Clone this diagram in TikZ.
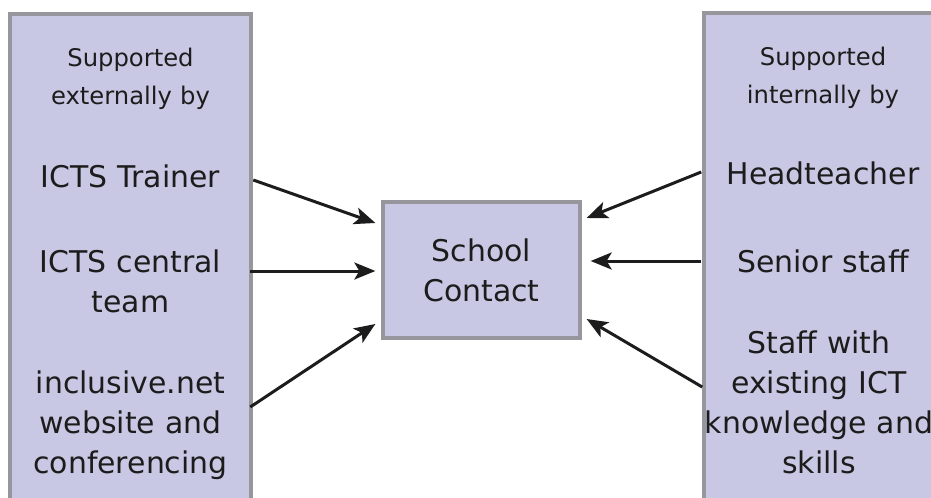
\documentclass[tikz,border=0pt]{standalone}
\usepackage{fontspec}
\setmainfont{DejaVu Sans}
\usepackage{tikz}
\usetikzlibrary{arrows.meta, positioning, calc}
\definecolor{panellilac}{RGB}{200, 200, 228}
\definecolor{panelrim}{RGB}{150, 150, 156}
\definecolor{inkdark}{RGB}{28, 28, 28}

\begin{document}
\begin{tikzpicture}[x=0.01cm, y=-0.01cm,
    panel/.style={draw=panelrim, line width=0.9pt, fill=panellilac, inner sep=0pt},
    bigtext/.style={text=inkdark, align=center, inner sep=0pt, text width=2.38cm,
        font=\fontsize{8.5}{11.4}\selectfont},
    smalltext/.style={text=inkdark, align=center, inner sep=0pt, text width=2.38cm,
        font=\fontsize{6.9}{10.8}\selectfont},
    feed/.style={-{Stealth[length=0.21cm, width=0.17cm, inset=0.05cm]}, line width=0.85pt, inkdark}]
    \useasboundingbox (0,0) rectangle (931,497);
    \clip (0,0) rectangle (931,497);

    % Side panels (run off the page)
    \draw[panel] (10,14) rectangle (251,520);
    \draw[panel] (704,13) rectangle (942,520);

    % Centre box
    \node[panel, minimum width=1.97cm, minimum height=1.36cm, align=center,
        text=inkdark, font=\fontsize{8.5}{11.4}\selectfont] (contact) at (481.5,270) {School\\Contact};

    % External support
    \node[smalltext] (extlabel) at (130.5,79) {Supported\\externally by};
    \node[bigtext] (trainer) at (130.5,176) {ICTS Trainer};
    \node[bigtext] (central) at (130.5,281) {ICTS central\\team};
    \node[bigtext] (inclusive) at (130.5,425) {inclusive.net\\website and\\conferencing};

    % Internal support
    \node[smalltext] (intlabel) at (823,78) {Supported\\internally by};
    \node[bigtext] (head) at (823,173) {Headteacher};
    \node[bigtext] (senior) at (823,261) {Senior staff};
    \node[bigtext, text width=2.6cm] (staff) at (819,402) {Staff with\\existing ICT\\knowledge and\\skills};

    % Arrows into the school contact
    \draw[feed] ([shift={(3,4)}]trainer.east) -- ([shift={(-6,-47)}]contact.west);
    \draw[feed] ([shift={(0,-10)}]central.east) -- ([shift={(-6,1)}]contact.west);
    \draw[feed] ([shift={(0,-18)}]inclusive.east) -- ([shift={(-6,54)}]contact.west);
    \draw[feed] ([shift={(-2,-1)}]head.west) -- ([shift={(5,-52)}]contact.east);
    \draw[feed] ([shift={(-2,0)}]senior.west) -- ([shift={(9,-9)}]contact.east);
    \draw[feed] ([shift={(14,-15)}]staff.west) -- ([shift={(5,49)}]contact.east);
\end{tikzpicture}
\end{document}
